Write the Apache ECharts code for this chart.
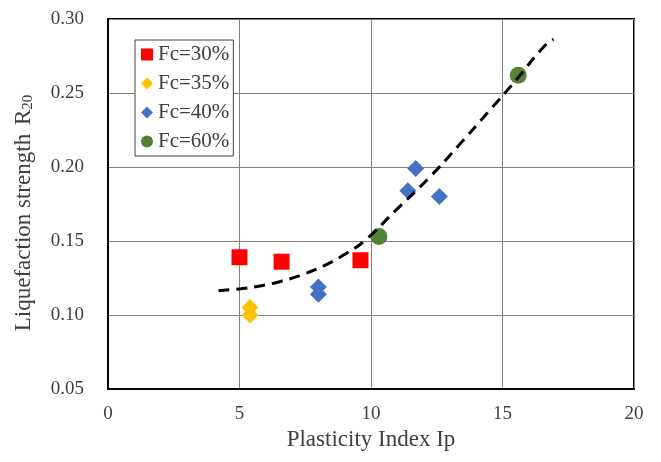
<!DOCTYPE html>
<html><head><meta charset="utf-8">
<script src="https://cdn.jsdelivr.net/npm/echarts@6/dist/echarts.min.js"></script>
<style>html,body{margin:0;padding:0;background:#fff}#c{width:661px;height:462px}</style>
</head><body><div id="c"></div>
<script>
const xTicks = [0, 5, 10, 15, 20];
const yTicks = [0.05, 0.10, 0.15, 0.20, 0.25, 0.30];
const fc30 = [[5.0, 0.139], [6.6, 0.136], [9.6, 0.137]];
const fc35 = [[5.4, 0.105], [5.4, 0.100]];
const fc40 = [[8.0, 0.119], [8.0, 0.114], [11.4, 0.184], [11.7, 0.199], [12.6, 0.180]];
const fc60 = [[10.3, 0.153], [15.6, 0.262]];
const trend = [[4.2, 0.1164], [5.05, 0.1178], [5.83, 0.1198], [6.62, 0.123], [7.53, 0.1282], [8.32, 0.1342], [9.1, 0.1421], [9.76, 0.1502], [10.93, 0.1705], [12.25, 0.1935], [13.29, 0.2137], [14.47, 0.2374], [15.52, 0.2588], [16.57, 0.2813], [16.94, 0.2863]];

const font = 'Liberation Serif';
const txt = '#404040';
const chart = echarts.init(document.getElementById('c'), null, {renderer: 'canvas'});
chart.setOption({
  animation: false,
  backgroundColor: '#fff',
  grid: {left: 108, right: 27, top: 19, bottom: 73, show: true, borderColor: '#000', borderWidth: 2, backgroundColor: 'transparent'},
  legend: {
    orient: 'vertical', left: 135, top: 40,
    backgroundColor: '#fff', borderColor: '#404040', borderWidth: 1,
    padding: [4, 4, 4, 6], itemGap: 8, itemWidth: 12, itemHeight: 12,
    textStyle: {fontFamily: font, fontSize: 21, color: txt},
    data: [
      {name: 'Fc=30%', icon: 'rect', itemStyle: {color: '#ff0000'}},
      {name: 'Fc=35%', icon: 'diamond', itemStyle: {color: '#ffc000'}},
      {name: 'Fc=40%', icon: 'diamond', itemStyle: {color: '#4472c4'}},
      {name: 'Fc=60%', icon: 'circle', itemStyle: {color: '#548235'}}
    ]
  },
  xAxis: {
    type: 'value', min: xTicks[0], max: xTicks[xTicks.length - 1], interval: 5,
    name: 'Plasticity Index Ip', nameLocation: 'middle', nameGap: 39,
    nameTextStyle: {fontFamily: font, fontSize: 23, color: txt},
    axisLine: {show: true, lineStyle: {color: '#000', width: 2}},
    axisTick: {show: false},
    axisLabel: {fontFamily: font, fontSize: 19, color: txt, margin: 16},
    splitLine: {show: true, lineStyle: {color: '#808080', width: 1}}
  },
  yAxis: {
    type: 'value', min: yTicks[0], max: yTicks[yTicks.length - 1], interval: 0.05,
    name: 'Liquefaction strength {r|R}{sub|20}', nameLocation: 'middle', nameGap: 72,
    nameTextStyle: {fontFamily: font, fontSize: 23, color: txt, padding: [0, 18, 0, 0],
      rich: {
        r: {fontFamily: font, fontSize: 23, color: txt, padding: [0, 0, 0, 3]},
        sub: {fontFamily: font, fontSize: 15, color: txt, verticalAlign: 'bottom', padding: [9, 0, 0, 0]}
      }},
    axisLine: {show: true, lineStyle: {color: '#000', width: 2}},
    axisTick: {show: false},
    axisLabel: {fontFamily: font, fontSize: 19, color: txt, margin: 24, formatter: v => v.toFixed(2)},
    splitLine: {show: true, lineStyle: {color: '#808080', width: 1}}
  },
  series: [
    {name: 'Fc=30%', type: 'scatter', data: fc30, symbol: 'rect', symbolSize: 16, itemStyle: {color: '#ff0000', opacity: 1}, z: 3},
    {name: 'Fc=35%', type: 'scatter', data: fc35, symbol: 'diamond', symbolSize: 17, itemStyle: {color: '#ffc000', opacity: 1}, z: 3},
    {name: 'Fc=40%', type: 'scatter', data: fc40, symbol: 'diamond', symbolSize: 17, itemStyle: {color: '#4472c4', opacity: 1}, z: 3},
    {name: 'Fc=60%', type: 'scatter', data: fc60, symbol: 'circle', symbolSize: 17, itemStyle: {color: '#548235', opacity: 1}, z: 3},
    {name: 'trend', type: 'line', data: trend, smooth: true, symbol: 'none', z: 4,
      lineStyle: {color: '#000', width: 3, type: [11, 7]}}
  ]
});
</script></body></html>
